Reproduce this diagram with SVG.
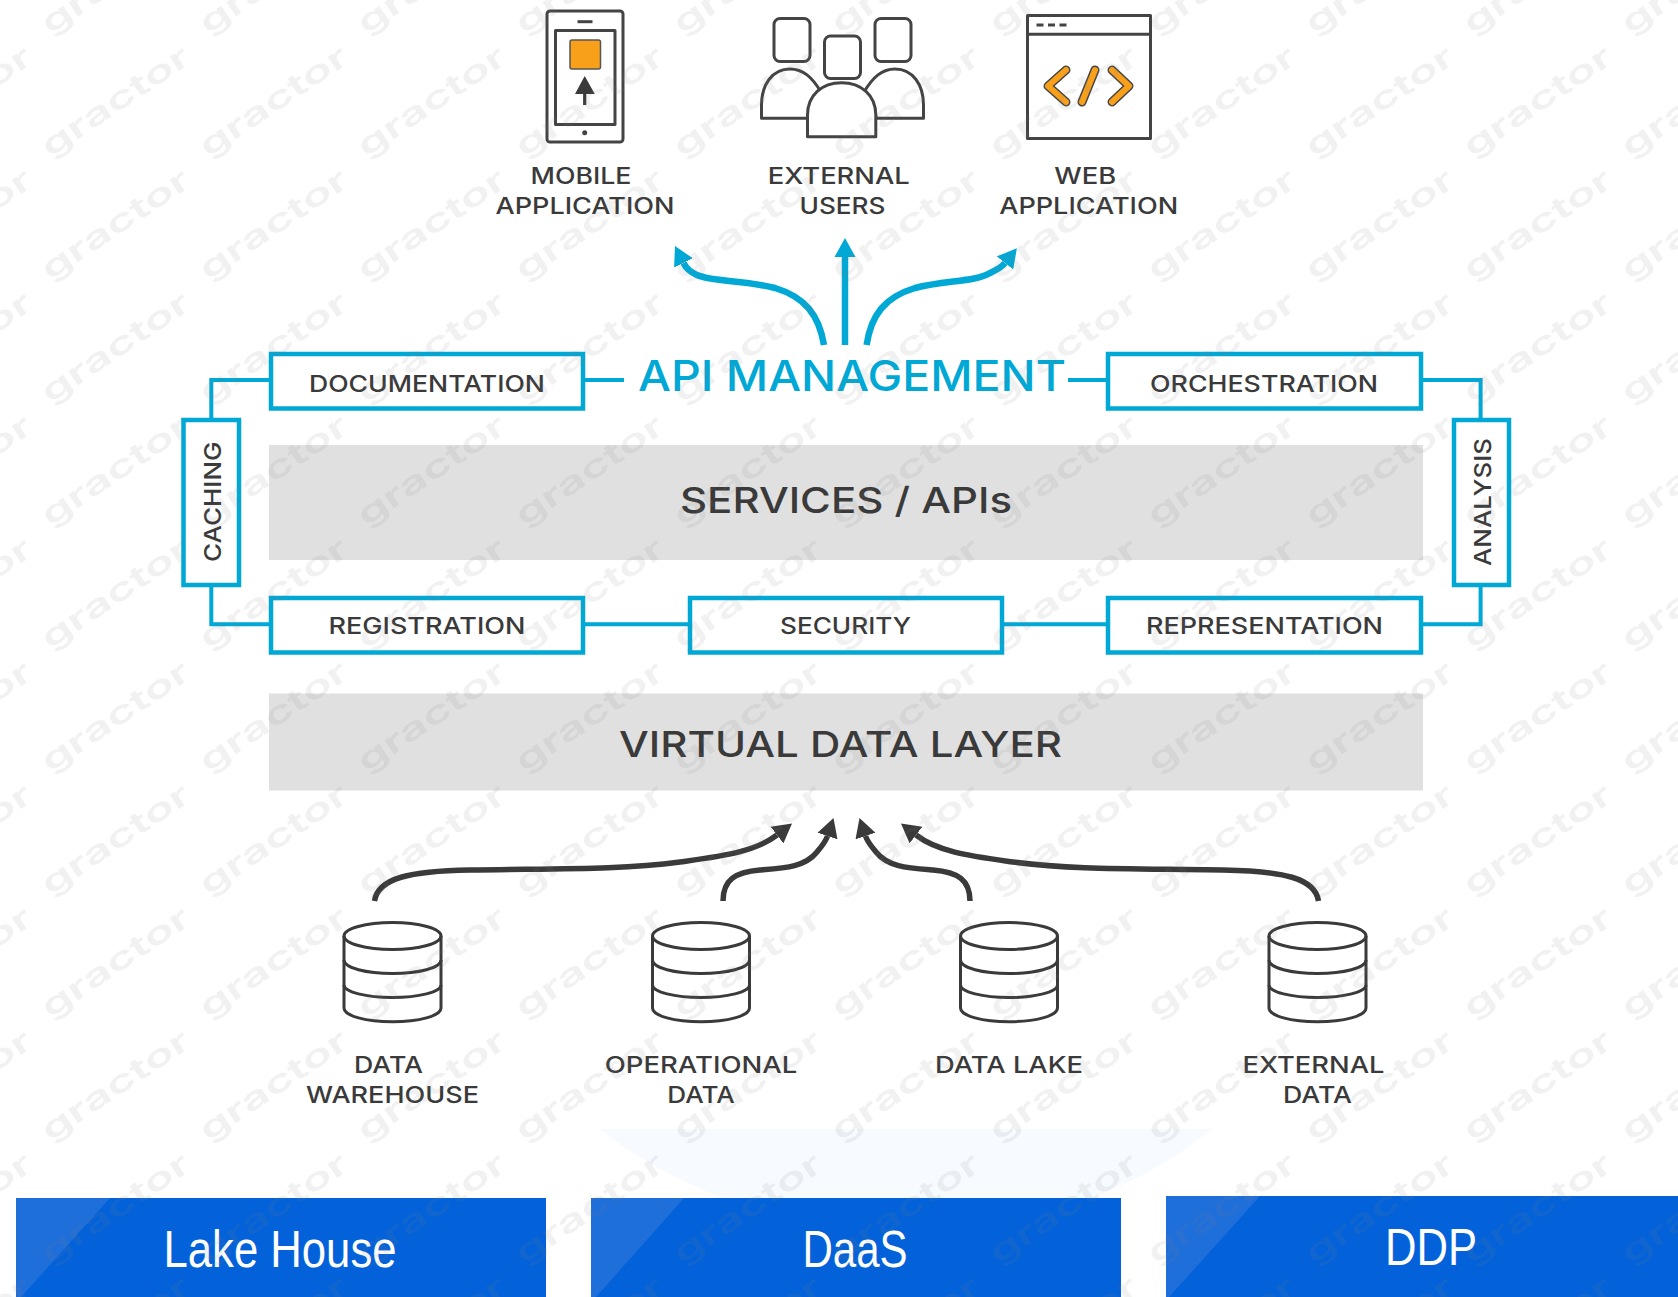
<svg xmlns="http://www.w3.org/2000/svg" xmlns:xlink="http://www.w3.org/1999/xlink" width="1678" height="1297" viewBox="0 0 1678 1297">
<style>
.lbl{font-family:"Inter","Liberation Sans",sans-serif;font-weight:500;fill:#3a3a3a;font-size:23px}
.big{font-family:"Inter","Liberation Sans",sans-serif;font-weight:500;fill:#3a3a3a;font-size:36px}
.api{font-family:"Inter","Liberation Sans",sans-serif;font-weight:500;fill:#00a8d6;font-size:42px}
.btn{font-family:"Liberation Sans",Arial,sans-serif;fill:#fff;font-size:52px}
.wm{font-family:"Inter","Liberation Sans",sans-serif;font-weight:600;font-size:31px;fill:#808080}
.box{fill:#fff;stroke:#00a8d6;stroke-width:4.500}
.bar{fill:#e0e0e0}
.blue{fill:none;stroke:#00a8d6;stroke-width:4}
.ablue{fill:none;stroke:#00a8d6;stroke-width:6.500;marker-end:url(#hb)}
.adark{fill:none;stroke:#3a3a3a;stroke-width:5.500;marker-end:url(#hd)}
.ico{fill:#fff;stroke:#444;stroke-width:3;stroke-linejoin:round}
.cy{fill:none;stroke:#3a3a3a;stroke-width:3}
.b{fill:#0362d9}
.sh{fill:#1f6fdb}
.code{fill:none;stroke-linecap:round;stroke-linejoin:round}
</style>
<defs>
<marker id="hb" viewBox="0 -11 19 22" markerUnits="userSpaceOnUse" markerWidth="19" markerHeight="22" refX="0" refY="0" orient="auto"><path d="M0-10.500L19 0L0 10.500Z" fill="#00a8d6"/></marker>
<marker id="hd" viewBox="0 -11 19 22" markerUnits="userSpaceOnUse" markerWidth="19" markerHeight="22" refX="0" refY="0" orient="auto"><path d="M0-10.500L19 0L0 10.500Z" fill="#3a3a3a"/></marker>
<g id="cyl">
<path class="cy" d="M-48.500 936V1008C-48.500 1016,-26 1021.700,0 1021.700S48.500 1016,48.500 1008V936"/>
<ellipse class="cy" cx="0" cy="936" rx="48.500" ry="13.500"/>
<path class="cy" d="M-48.500 960C-48.500 968,-26 973.500,0 973.500S48.500 968,48.500 960"/>
<path class="cy" d="M-48.500 985C-48.500 992,-26 997.500,0 997.500S48.500 992,48.500 985"/>
</g>
<text id="wmt" class="wm" x="0" y="0" textLength="172" lengthAdjust="spacingAndGlyphs" transform="rotate(-34)">gractor</text>
<g id="wmrow">
<use xlink:href="#wmt" href="#wmt" x="-108"/><use xlink:href="#wmt" href="#wmt" x="50"/><use xlink:href="#wmt" href="#wmt" x="208"/><use xlink:href="#wmt" href="#wmt" x="366"/><use xlink:href="#wmt" href="#wmt" x="524"/><use xlink:href="#wmt" href="#wmt" x="682"/><use xlink:href="#wmt" href="#wmt" x="840"/><use xlink:href="#wmt" href="#wmt" x="998"/><use xlink:href="#wmt" href="#wmt" x="1156"/><use xlink:href="#wmt" href="#wmt" x="1314"/><use xlink:href="#wmt" href="#wmt" x="1472"/><use xlink:href="#wmt" href="#wmt" x="1630"/>
</g>
</defs>
<rect width="1678" height="1297" fill="#fff"/>

<g id="connectors">
<path class="blue" d="M584 380H624M1068 380H1108M1421 380H1480.600V420M1480.600 585V624.300H1421M1004 624.300H1108M584 624.300H688M269 624.300H211.300V585M211.300 420V380H271"/>
<path class="ablue" d="M824 345C819 315,805 297,775 288C745 280,712 282,697 275C690 272,686 268,683.500 263"/>
<path class="ablue" d="M845 345V257"/>
<path class="ablue" d="M866.600 345C871 315,885 297,915 288C945 280,975 282,990 273C996 270,1001 268,1005 263"/>
<path class="adark" d="M374.500 901C378 878,410 871,470 870C560 868.500,620 870,680 862C722 856,755 852,777 835"/>
<path class="adark" d="M723 901C723 880,735 872,760 870C785 868,805 867,817 852C822 846,825.500 842,827.500 836"/>
<path class="adark" d="M970 901C970 880,958 872,933 870C908 868,888 867,876 852C871 846,867.500 842,865.500 836"/>
<path class="adark" d="M1318.500 901C1315 878,1283 871,1223 870C1133 868.500,1073 870,1013 862C971 856,938 852,916 835"/>
</g>

<g id="mobile-application">
<rect class="ico" x="547" y="11" width="76" height="131" rx="3"/>
<rect class="ico" x="555.500" y="30.500" width="59.500" height="94" />
<line x1="577.500" x2="592.500" y1="21.700" y2="21.700" stroke="#444" stroke-width="3"/>
<circle cx="584.700" cy="132.700" r="2.500" fill="#444"/>
<rect x="570" y="40" width="30.500" height="29" rx="2" fill="#f9a01b" stroke="#555" stroke-width="1.500"/>
<path d="M584.700 76L594.800 94H586.300V105H583.100V94H575Z" fill="#3a3a3a"/>
<text class="lbl" x="530.500" y="184" textLength="101" lengthAdjust="spacingAndGlyphs">MOBILE</text>
<text class="lbl" x="495.500" y="214" textLength="179" lengthAdjust="spacingAndGlyphs">APPLICATION</text>
</g>

<g id="external-users">
<path class="ico" d="M808 118.300H761.500V105C761.500 85,772 69,790 69C803 69,812 77,821 92Z"/>
<path class="ico" d="M877 118.300H923.500V105C923.500 85,913 69,895 69C882 69,873 77,864 92Z"/>
<rect class="ico" x="774" y="18.500" width="36" height="43" rx="6"/>
<rect class="ico" x="875" y="18.500" width="36" height="43" rx="6"/>
<rect class="ico" x="824.500" y="36" width="36" height="42.500" rx="6"/>
<path class="ico" d="M807.500 136.700V115C807.500 95,822 82.700,841.600 82.700C861 82.700,875.800 95,875.800 115V136.700Z"/>
<text class="lbl" x="767.800" y="184" textLength="142" lengthAdjust="spacingAndGlyphs">EXTERNAL</text>
<text class="lbl" x="799.500" y="214" textLength="86" lengthAdjust="spacingAndGlyphs">USERS</text>
</g>

<g id="web-application">
<rect class="ico" x="1027.500" y="15.500" width="123" height="123"/>
<line x1="1027.500" x2="1150.500" y1="34.300" y2="34.300" stroke="#444" stroke-width="3"/>
<line x1="1036.500" x2="1067" y1="25" y2="25" stroke="#444" stroke-width="3" stroke-dasharray="7 4.500"/>
<path class="code" stroke="#444" stroke-width="9" d="M1066 70L1048 86L1066 102M1095 70L1082 102M1112 70L1129 86L1112 102"/>
<path class="code" stroke="#f9a01b" stroke-width="6" d="M1066 70L1048 86L1066 102M1095 70L1082 102M1112 70L1129 86L1112 102"/>
<text class="lbl" x="1054.300" y="184" textLength="62" lengthAdjust="spacingAndGlyphs">WEB</text>
<text class="lbl" x="999.200" y="214" textLength="179" lengthAdjust="spacingAndGlyphs">APPLICATION</text>
</g>

<g id="api-management"><text class="api" x="638" y="391" textLength="428" lengthAdjust="spacingAndGlyphs">API MANAGEMENT</text></g>
<g id="documentation"><rect class="box" x="271" y="354" width="312" height="54.500"/><text class="lbl" x="309" y="392" textLength="236" lengthAdjust="spacingAndGlyphs">DOCUMENTATION</text></g>
<g id="orchestration"><rect class="box" x="1108" y="354" width="313" height="54.500"/><text class="lbl" x="1150" y="392" textLength="228" lengthAdjust="spacingAndGlyphs">ORCHESTRATION</text></g>
<g id="caching"><rect class="box" x="183.500" y="420" width="55.500" height="165"/><text class="lbl" transform="translate(220.500 562) rotate(-90)" x="0" y="0" textLength="120.500" lengthAdjust="spacingAndGlyphs">CACHING</text></g>
<g id="analysis"><rect class="box" x="1454" y="420" width="55" height="165"/><text class="lbl" transform="translate(1491 566) rotate(-90)" x="0" y="0" textLength="128" lengthAdjust="spacingAndGlyphs">ANALYSIS</text></g>
<g id="services-apis"><rect class="bar" x="269" y="445" width="1154" height="115"/><text class="big" x="680" y="513" textLength="332" lengthAdjust="spacingAndGlyphs">SERVICES / APIs</text></g>
<g id="registration"><rect class="box" x="271" y="598" width="312" height="54.500"/><text class="lbl" x="328.500" y="634" textLength="197" lengthAdjust="spacingAndGlyphs">REGISTRATION</text></g>
<g id="security"><rect class="box" x="690" y="598" width="312" height="54.500"/><text class="lbl" x="780" y="634" textLength="131" lengthAdjust="spacingAndGlyphs">SECURITY</text></g>
<g id="representation"><rect class="box" x="1108" y="598" width="313" height="54.500"/><text class="lbl" x="1146" y="634" textLength="237" lengthAdjust="spacingAndGlyphs">REPRESENTATION</text></g>
<g id="virtual-data-layer"><rect class="bar" x="269" y="693.500" width="1154" height="97"/><text class="big" x="619" y="756.500" textLength="443" lengthAdjust="spacingAndGlyphs">VIRTUAL DATA LAYER</text></g>

<g id="data-warehouse"><use xlink:href="#cyl" href="#cyl" x="392.500"/><text class="lbl" x="354" y="1073.300" textLength="69" lengthAdjust="spacingAndGlyphs">DATA</text><text class="lbl" x="306" y="1103" textLength="173" lengthAdjust="spacingAndGlyphs">WAREHOUSE</text></g>
<g id="operational-data"><use xlink:href="#cyl" href="#cyl" x="701"/><text class="lbl" x="604.800" y="1073.300" textLength="192.500" lengthAdjust="spacingAndGlyphs">OPERATIONAL</text><text class="lbl" x="667.300" y="1103" textLength="67.500" lengthAdjust="spacingAndGlyphs">DATA</text></g>
<g id="data-lake"><use xlink:href="#cyl" href="#cyl" x="1009"/><text class="lbl" x="935" y="1073.300" textLength="148" lengthAdjust="spacingAndGlyphs">DATA LAKE</text></g>
<g id="external-data"><use xlink:href="#cyl" href="#cyl" x="1317.500"/><text class="lbl" x="1242.500" y="1073.300" textLength="142" lengthAdjust="spacingAndGlyphs">EXTERNAL</text><text class="lbl" x="1283" y="1103" textLength="69" lengthAdjust="spacingAndGlyphs">DATA</text></g>

<path d="M600 1129H1212Q1160 1172,1091 1198H723Q650 1170,600 1129Z" fill="#f7fafe"/>

<g id="lake-house"><rect class="b" x="16" y="1198" width="530" height="99"/><path class="sh" d="M16 1198H110L21 1297H16Z"/><text class="btn" x="163.500" y="1266.500" textLength="233" lengthAdjust="spacingAndGlyphs">Lake House</text></g>
<g id="daas"><rect class="b" x="591" y="1198" width="530" height="99"/><path class="sh" d="M591 1198H684L596 1297H591Z"/><text class="btn" x="802.500" y="1266.500" textLength="105" lengthAdjust="spacingAndGlyphs">DaaS</text></g>
<g id="ddp"><rect class="b" x="1166" y="1196" width="512" height="101"/><path class="sh" d="M1166 1196H1260L1169 1297H1166Z"/><text class="btn" x="1385" y="1265" textLength="92" lengthAdjust="spacingAndGlyphs">DDP</text></g>

<g id="watermark" opacity="0.11">
<use xlink:href="#wmrow" href="#wmrow" y="35"/><use xlink:href="#wmrow" href="#wmrow" y="158"/><use xlink:href="#wmrow" href="#wmrow" y="281"/><use xlink:href="#wmrow" href="#wmrow" y="404"/><use xlink:href="#wmrow" href="#wmrow" y="527"/><use xlink:href="#wmrow" href="#wmrow" y="650"/><use xlink:href="#wmrow" href="#wmrow" y="773"/><use xlink:href="#wmrow" href="#wmrow" y="896"/><use xlink:href="#wmrow" href="#wmrow" y="1019"/><use xlink:href="#wmrow" href="#wmrow" y="1142"/><use xlink:href="#wmrow" href="#wmrow" y="1265"/><use xlink:href="#wmrow" href="#wmrow" y="1388"/>
</g>
</svg>
